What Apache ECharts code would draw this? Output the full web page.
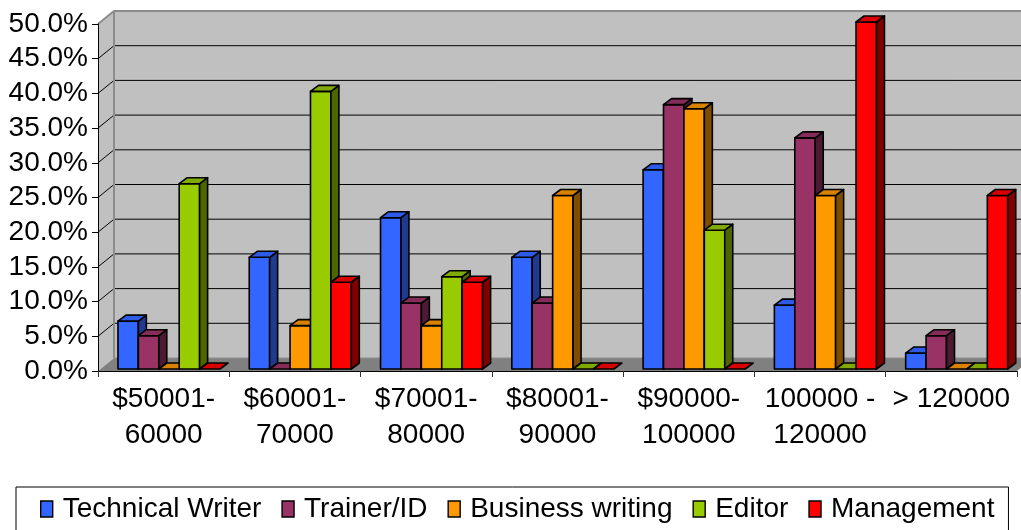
<!DOCTYPE html>
<html>
<head>
<meta charset="utf-8">
<script src="https://cdn.jsdelivr.net/npm/echarts@6/dist/echarts.min.js"></script>
<style>
html, body { margin: 0; padding: 0; background: #ffffff; }
#chart { width: 1021px; height: 530px; }
</style>
</head>
<body>
<div id="chart"></div>
<script>
// Salary ranges and share of respondents (%) per job role
const categories = ['$50001-\n60000', '$60001-\n70000', '$70001-\n80000', '$80001-\n90000', '$90000-\n100000', '100000 -\n120000', '> 120000'];
const roleNames = ['Technical Writer', 'Trainer/ID', 'Business writing', 'Editor', 'Management'];
const technicalWriter = [6.9, 16.1, 21.8, 16.1, 28.7, 9.2, 2.3];
const trainerID = [4.8, 0, 9.5, 9.5, 38.1, 33.3, 4.8];
const businessWriting = [0, 6.25, 6.25, 25, 37.5, 25, 0];
const editor = [26.7, 40, 13.3, 0, 20, 0, 0];
const management = [0, 12.5, 12.5, 0, 0, 50, 25];
const yMax = 50;
const yStep = 5;

const roleValues = [technicalWriter, trainerID, businessWriting, editor, management];
// front / top / side shades of each role's box
const palette = [
  { front: '#3366FF', top: '#2D5AE6', side: '#1F3A8F' },
  { front: '#993366', top: '#862C59', side: '#4D1A33' },
  { front: '#FF9900', top: '#D98200', side: '#804D00' },
  { front: '#99CC00', top: '#80AA00', side: '#4D6600' },
  { front: '#FF0000', top: '#D90000', side: '#800000' }
];

// perspective offsets
const WALL_DX = 16, WALL_DY = 13;   // depth of the floor / side wall
const BAR_DX = 8, BAR_DY = 6;       // depth of each box
const BAR_BACK = 2;                 // boxes sit slightly behind the floor's front edge
const GROUP_START = 0.152;          // fraction of a band before the first box
const BAR_FRAC = 0.1555;            // box width as a fraction of a band

const stroke = { stroke: '#000', lineWidth: 1.6, lineJoin: 'round' };

function renderWalls(params, api) {
  const cs = params.coordSys;
  const x0 = cs.x, x1 = cs.x + cs.width;
  const yTop = api.coord([0, yMax])[1];
  const yBase = api.coord([0, 0])[1];
  const children = [];
  // back wall
  children.push({ type: 'polygon', shape: { points: [[x0 + WALL_DX, yTop - WALL_DY], [x1 + WALL_DX, yTop - WALL_DY], [x1 + WALL_DX, yBase - WALL_DY], [x0 + WALL_DX, yBase - WALL_DY]] },
    style: { fill: '#C0C0C0' } });
  // left side wall
  children.push({ type: 'polygon', shape: { points: [[x0, yTop], [x0 + WALL_DX, yTop - WALL_DY], [x0 + WALL_DX, yBase - WALL_DY], [x0, yBase]] },
    style: { fill: '#C0C0C0' } });
  // floor
  children.push({ type: 'polygon', shape: { points: [[x0, yBase], [x1, yBase], [x1 + WALL_DX, yBase - WALL_DY], [x0 + WALL_DX, yBase - WALL_DY]] },
    style: { fill: '#808080' } });
  // grid lines across the side wall and the back wall
  for (let v = yStep; v < yMax; v += yStep) {
    const y = api.coord([0, v])[1];
    children.push({ type: 'polyline', shape: { points: [[x0, y], [x0 + WALL_DX, y - WALL_DY], [x1 + WALL_DX, y - WALL_DY]] },
      style: { stroke: '#000', lineWidth: 1, fill: null } });
  }
  // wall borders
  children.push({ type: 'polyline', shape: { points: [[x0, yTop], [x0 + WALL_DX, yTop - WALL_DY], [x1 + WALL_DX, yTop - WALL_DY]] },
    style: { stroke: '#8C8C8C', lineWidth: 2, fill: null } });
  children.push({ type: 'line', shape: { x1: x0 + WALL_DX, y1: yTop - WALL_DY, x2: x0 + WALL_DX, y2: yBase - WALL_DY },
    style: { stroke: '#8C8C8C', lineWidth: 2 } });
  children.push({ type: 'line', shape: { x1: x0 + WALL_DX, y1: yBase - WALL_DY, x2: x1 + WALL_DX, y2: yBase - WALL_DY },
    style: { stroke: '#8C8C8C', lineWidth: 1 } });
  return { type: 'group', children: children };
}

function makeBoxRenderer(roleIndex) {
  const col = palette[roleIndex];
  return function (params, api) {
    const cat = api.value(0);
    const val = api.value(1);
    const band = api.size([1, 0])[0];
    const base = api.coord([cat, 0]);
    const topPt = api.coord([cat, val]);
    const w = band * BAR_FRAC;
    const x = base[0] - band / 2 + band * GROUP_START + roleIndex * w;
    const y0 = base[1] - BAR_BACK;
    const y1 = topPt[1] - BAR_BACK;
    const children = [];
    if (y0 - y1 > 0.5) {
      children.push({ type: 'rect', shape: { x: x, y: y1, width: w, height: y0 - y1 },
        style: Object.assign({ fill: col.front }, stroke) });
      children.push({ type: 'polygon', shape: { points: [[x + w, y0], [x + w, y1], [x + w + BAR_DX, y1 - BAR_DY], [x + w + BAR_DX, y0 - BAR_DY]] },
        style: Object.assign({ fill: col.side }, stroke) });
    }
    children.push({ type: 'polygon', shape: { points: [[x, y1], [x + w, y1], [x + w + BAR_DX, y1 - BAR_DY], [x + BAR_DX, y1 - BAR_DY]] },
      style: Object.assign({ fill: col.top }, stroke) });
    return { type: 'group', children: children };
  };
}

const fontFamily = '"Liberation Sans", Arial, sans-serif';
const fontSize = 28;

const series = [{
  type: 'custom',
  name: '__walls',
  silent: true,
  z: 1,
  renderItem: renderWalls,
  data: [[0, 0]]
}];
roleNames.forEach(function (name, r) {
  series.push({
    type: 'custom',
    name: name,
    z: 3,
    itemStyle: { color: palette[r].front },
    renderItem: makeBoxRenderer(r),
    data: roleValues[r].map(function (v, i) { return [i, v]; })
  });
});

const chart = echarts.init(document.getElementById('chart'), null, { renderer: 'canvas' });
chart.setOption({
  animation: false,
  backgroundColor: '#ffffff',
  grid: { left: 98, right: 4, top: 24, bottom: 159 },
  xAxis: {
    type: 'category',
    data: categories,
    boundaryGap: true,
    z: 5,
    axisLine: { show: true, lineStyle: { color: '#000', width: 1 } },
    axisTick: { show: true, length: 6, lineStyle: { color: '#333' } },
    axisLabel: { interval: 0, color: '#000', fontSize: fontSize, lineHeight: 36, margin: 10, fontFamily: fontFamily },
    splitLine: { show: false }
  },
  yAxis: {
    type: 'value',
    min: 0,
    max: yMax,
    interval: yStep,
    z: 5,
    axisLine: { show: true, lineStyle: { color: '#000', width: 1 } },
    axisTick: { show: true, length: 6, lineStyle: { color: '#000' } },
    axisLabel: { color: '#000', fontSize: fontSize, margin: 10, fontFamily: fontFamily,
      formatter: function (v) { return v.toFixed(1) + '%'; } },
    splitLine: { show: false }
  },
  legend: {
    data: roleNames,
    left: 16,
    top: 487,
    orient: 'horizontal',
    icon: 'rect',
    itemWidth: 12,
    itemHeight: 16,
    itemGap: 20,
    padding: [8, 14, 20, 24],
    borderColor: '#000',
    borderWidth: 1,
    itemStyle: { borderColor: '#000', borderWidth: 1.4 },
    textStyle: { color: '#000', fontSize: fontSize, fontFamily: fontFamily, padding: [0, 0, 0, 5] },
    selectedMode: false
  },
  series: series
});
</script>
</body>
</html>
